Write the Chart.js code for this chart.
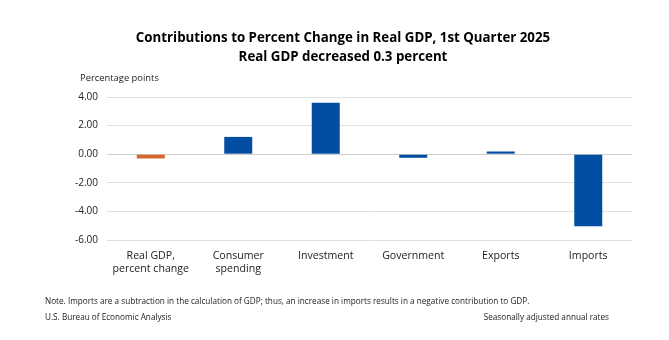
<!DOCTYPE html>
<html>
<head>
<meta charset="utf-8">
<script src="https://cdn.jsdelivr.net/npm/chart.js@4"></script>
<style>
  html, body { margin: 0; padding: 0; background: #fff; }
  #wrap { width: 669px; height: 340px; }
</style>
</head>
<body>
<div id="wrap"><canvas id="gdpChart" width="669" height="340"></canvas></div>
<script>
const categories = [['Real GDP,', 'percent change'], ['Consumer', 'spending'], 'Investment', 'Government', 'Exports', 'Imports'];
const contributions = [-0.3, 1.21, 3.60, -0.25, 0.19, -5.03];
const barColors = ['#D5672B', '#034EA2', '#034EA2', '#034EA2', '#034EA2', '#034EA2'];
const yTicks = [4, 2, 0, -2, -4, -6];

const titleLines = ['Contributions to Percent Change in Real GDP, 1st Quarter 2025', 'Real GDP decreased 0.3 percent'];
const axisTitle = 'Percentage points';
const noteText = 'Note. Imports are a subtraction in the calculation of GDP; thus, an increase in imports results in a negative contribution to GDP.';
const sourceText = 'U.S. Bureau of Economic Analysis';
const rateText = 'Seasonally adjusted annual rates';

const FONT = "'Open Sans', 'Noto Sans', sans-serif";

// titles and notes drawn around the plot
const textPlugin = {
    id: 'gdpText',
    afterDraw(chart) {
        const ctx = chart.ctx;
        ctx.save();
        ctx.fillStyle = '#000';
        ctx.textBaseline = 'middle';
        ctx.textAlign = 'center';
        ctx.font = 'bold 13.3px ' + FONT;
        ctx.fillText(titleLines[0], 343, 38);
        ctx.fillText(titleLines[1], 343, 57);

        ctx.textAlign = 'left';
        ctx.fillStyle = '#222';
        ctx.font = '9.4px ' + FONT;
        ctx.fillText(axisTitle, 80, 78);

        ctx.font = '8.2px ' + FONT;
        ctx.fillText(noteText, 45, 302);
        ctx.fillText(sourceText, 45, 318);
        ctx.textAlign = 'right';
        ctx.fillText(rateText, 609, 318);
        ctx.restore();
    }
};

new Chart(document.getElementById('gdpChart'), {
    type: 'bar',
    data: {
        labels: categories,
        datasets: [{
            data: contributions,
            backgroundColor: barColors,
            barPercentage: 0.32,
            categoryPercentage: 1.0
        }]
    },
    options: {
        responsive: false,
        animation: false,
        layout: { padding: { left: 0, right: 37, top: 97, bottom: 55 } },
        plugins: {
            legend: { display: false },
            tooltip: { enabled: false }
        },
        scales: {
            x: {
                grid: { display: false },
                border: { display: false },
                afterFit(scale) { scale.height = 45; },
                ticks: {
                    color: '#222',
                    font: { family: FONT, size: 10.6 },
                    padding: 2,
                    maxRotation: 0,
                    autoSkip: false
                }
            },
            y: {
                min: -6,
                max: 4,
                afterFit(scale) { scale.width = 107; },
                afterBuildTicks(scale) { scale.ticks = yTicks.map(v => ({ value: v })); },
                grid: {
                    color: c => c.tick && c.tick.value === 0 ? '#cfcfcf' : '#e0e0e0',
                    lineWidth: 1,
                    drawTicks: false
                },
                border: { display: false },
                ticks: {
                    color: '#222',
                    font: { family: FONT, size: 10 },
                    padding: 9,
                    callback: v => v.toFixed(2)
                }
            }
        }
    },
    plugins: [textPlugin]
});
</script>
</body>
</html>
